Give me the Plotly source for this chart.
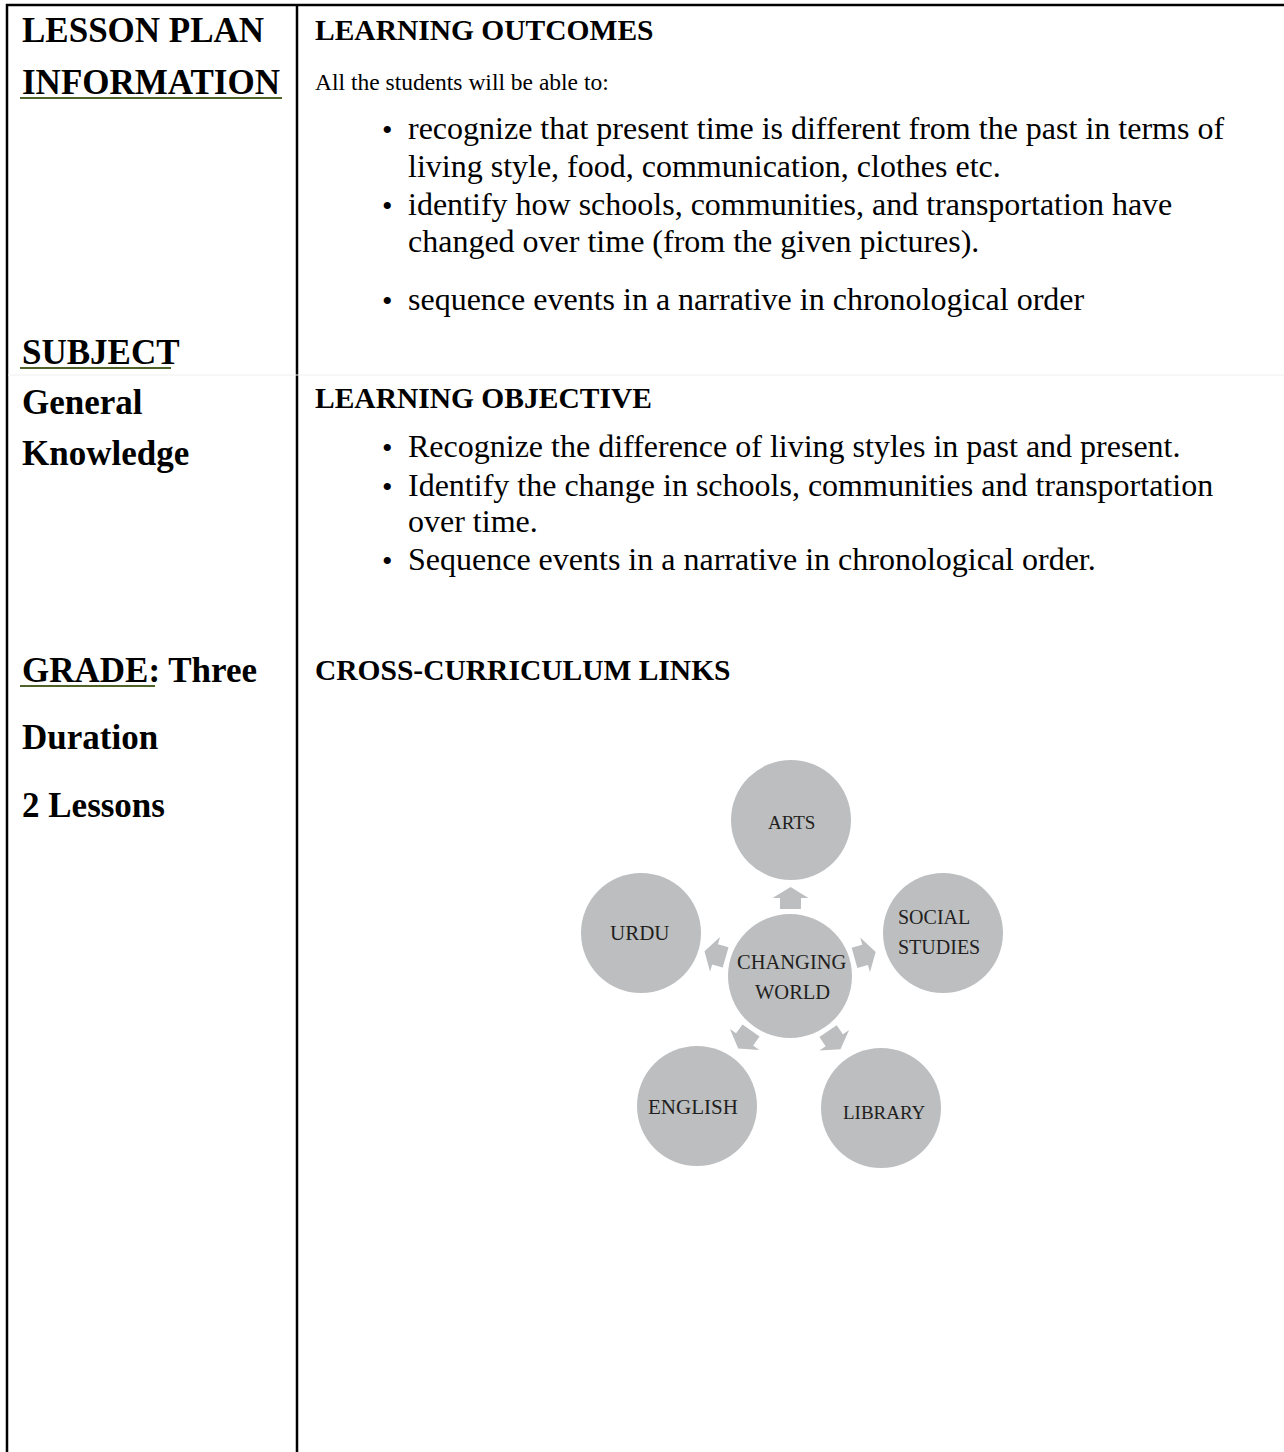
import math
import plotly.graph_objects as go

W, H = 1284, 1452
SERIF = "Liberation Serif"

# ---------------- data ----------------
left_lines = ["LESSON PLAN", "INFORMATION", "SUBJECT", "General", "Knowledge",
              "GRADE: Three", "Duration", "2 Lessons"]
left_y = [30, 82, 352, 402, 453, 670, 737, 805]
underlined = [("INFORMATION", 1), ("SUBJECT", 2), ("GRADE:", 5)]

headings = ["LEARNING OUTCOMES", "LEARNING OBJECTIVE", "CROSS-CURRICULUM LINKS"]
heading_y = [30, 398, 670]

intro_text = "All the students will be able to:"
intro_y = 82

outcomes = [
    ["recognize that present time is different from the past in terms of",
     "living style, food, communication, clothes etc."],
    ["identify how schools, communities, and transportation have",
     "changed over time (from the given pictures)."],
    ["sequence events in a narrative in chronological order"],
]
outcome_y = [[128, 166], [204, 241], [299]]

objectives = [
    ["Recognize the difference of living styles in past and present."],
    ["Identify the change in schools, communities and transportation",
     "over time."],
    ["Sequence events in a narrative in chronological order."],
]
objective_y = [[446], [485, 521], [559]]

center_lines = ["CHANGING", "WORLD"]
node_labels = [["ARTS"], ["SOCIAL", "STUDIES"], ["LIBRARY"], ["ENGLISH"], ["URDU"]]

# ---------------- layout geometry ----------------
hub = (790, 976)
hub_r = 62
node_pos = [(791, 820), (943, 933), (881, 1108), (697, 1106), (641, 933)]
node_r = 60
center_label_y = [962, 992]
label_pos = [(791, [822]), (896, [917, 947]), (884, [1112]), (693, [1107]), (640, [933])]
label_anchor = ["center", "left", "center", "center", "center"]
label_size = [19, 20, 19, 21, 21]

GRAY = "#bcbec0"
GREEN = "#4f6228"

fig = go.Figure()
shapes = []
ann = []

# table borders
shapes.append(dict(type="line", x0=6, x1=W, y0=5, y1=5, line=dict(color="black", width=2.5)))
shapes.append(dict(type="line", x0=7, x1=7, y0=4, y1=H, line=dict(color="black", width=2.5)))
shapes.append(dict(type="line", x0=297, x1=297, y0=4, y1=H, line=dict(color="black", width=2.5)))
shapes.append(dict(type="line", x0=8, x1=W, y0=375, y1=375, line=dict(color="#f0f0f0", width=1)))

# left column
for t, y in zip(left_lines, left_y):
    ann.append(dict(x=20, y=y, text="<b>%s</b>" % t, xanchor="left", yanchor="middle",
                    font=dict(family=SERIF, size=35, color="black")))
# underlines (green)
ul_extent = {"INFORMATION": 282, "SUBJECT": 171, "GRADE:": 155}
for word, idx in underlined:
    y = left_y[idx] + 16
    shapes.append(dict(type="line", x0=20, x1=ul_extent[word], y0=y, y1=y,
                       line=dict(color=GREEN, width=2)))

# right column headings
for t, y in zip(headings, heading_y):
    ann.append(dict(x=313, y=y, text="<b>%s</b>" % t, xanchor="left", yanchor="middle",
                    font=dict(family=SERIF, size=29.5, color="black")))

ann.append(dict(x=313, y=intro_y, text=intro_text, xanchor="left", yanchor="middle",
                font=dict(family=SERIF, size=23.5, color="black")))


def bullet_list(items, ys):
    for lines, yl in zip(items, ys):
        ann.append(dict(x=387, y=yl[0] + 1, text="•", xanchor="center", yanchor="middle",
                        font=dict(family=SERIF, size=30, color="black")))
        for t, y in zip(lines, yl):
            ann.append(dict(x=406, y=y, text=t, xanchor="left", yanchor="middle",
                            font=dict(family=SERIF, size=32, color="black")))


bullet_list(outcomes, outcome_y)
bullet_list(objectives, objective_y)

# diagram circles
for (cx, cy) in node_pos:
    shapes.append(dict(type="circle", x0=cx - node_r, x1=cx + node_r, y0=cy - node_r, y1=cy + node_r,
                       fillcolor=GRAY, line=dict(width=0)))
shapes.append(dict(type="circle", x0=hub[0] - hub_r, x1=hub[0] + hub_r, y0=hub[1] - hub_r,
                   y1=hub[1] + hub_r, fillcolor=GRAY, line=dict(width=0)))


# arrows from hub toward nodes
def arrow_path(ux, uy):
    px, py = -uy, ux
    r_tail, r_neck, r_tip = 67, 78, 89
    sw, hw = 10.5, 18
    pts = [
        (r_tail, -sw), (r_neck, -sw), (r_neck, -hw), (r_tip, 0),
        (r_neck, hw), (r_neck, sw), (r_tail, sw),
    ]
    coords = []
    for a, b in pts:
        coords.append((hub[0] + ux * a + px * b, hub[1] + uy * a + py * b))
    return "M " + " L ".join("%.2f,%.2f" % c for c in coords) + " Z"


for (nx, ny) in node_pos:
    dx, dy = nx - hub[0], ny - hub[1]
    d = math.hypot(dx, dy)
    shapes.append(dict(type="path", path=arrow_path(dx / d, dy / d), fillcolor=GRAY,
                       line=dict(width=0)))

# diagram labels
for t, y in zip(center_lines, center_label_y):
    ann.append(dict(x=792, y=y, text=t, xanchor="center", yanchor="middle",
                    font=dict(family=SERIF, size=20.5, color="#231f20")))
for lines, (lx, lys), anc, sz in zip(node_labels, label_pos, label_anchor, label_size):
    for t, ly in zip(lines, lys):
        ann.append(dict(x=lx, y=ly, text=t, xanchor=anc, yanchor="middle",
                        font=dict(family=SERIF, size=sz, color="#231f20")))

for a in ann:
    a.update(xref="x", yref="y", showarrow=False)
for s in shapes:
    s.update(xref="x", yref="y", layer="below" if s["type"] in ("circle", "path") else "above")

fig.update_layout(
    width=W, height=H, autosize=False,
    margin=dict(l=0, r=0, t=0, b=0, pad=0),
    paper_bgcolor="white", plot_bgcolor="white",
    xaxis=dict(range=[0, W], visible=False, fixedrange=True),
    yaxis=dict(range=[H, 0], visible=False, fixedrange=True),
    shapes=shapes, annotations=ann, showlegend=False,
)

fig.write_html("out.html", config={"displayModeBar": False},
               post_script="document.body.style.margin='0';document.body.style.overflow='hidden';")
